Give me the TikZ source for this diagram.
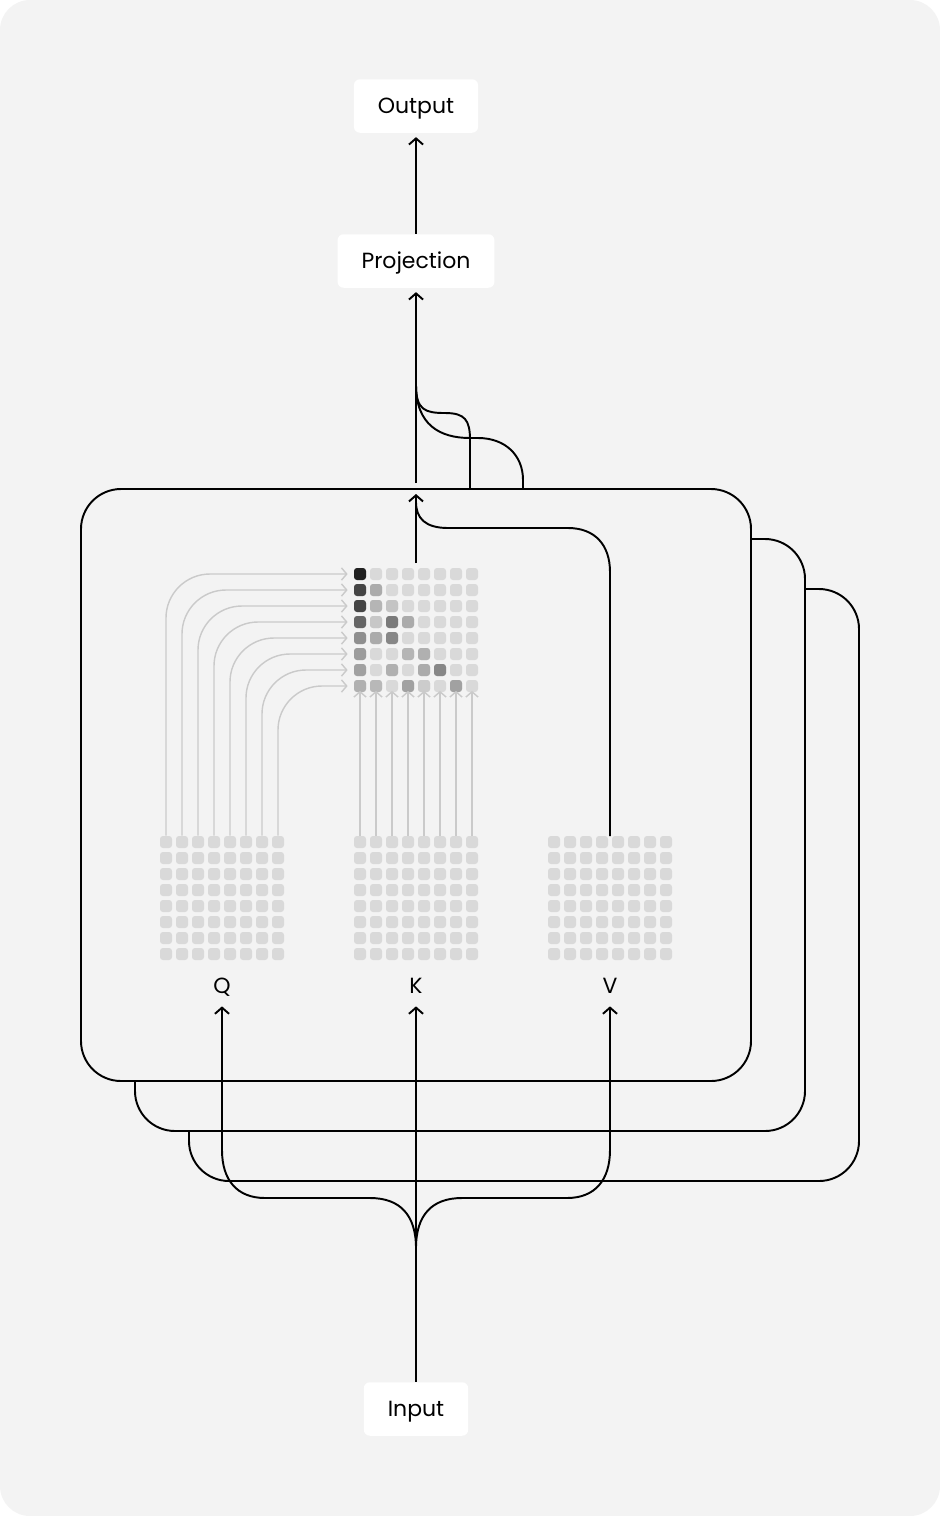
\documentclass[tikz,border=0pt]{standalone}
\usepackage{fontspec}
\setmainfont{Poppins}
\usetikzlibrary{positioning, arrows.meta}
\definecolor{bgcol}{HTML}{F3F3F3}
\definecolor{dotcol}{HTML}{D9D9D9}
\definecolor{wirecol}{HTML}{CACACA}

\begin{document}
\begin{tikzpicture}[
        x=0.02cm, y=-0.02cm,
        every node/.style={font=\fontsize{12.5}{15}\selectfont},
        box/.style={fill=white, rounded corners=0.12cm, inner xsep=0.48cm, minimum height=1.07cm, text height=0.82em, text depth=0pt},
        lbl/.style={inner sep=0, minimum height=0.8cm, text height=0.82em, text depth=0pt},
        head/.style={draw=black, line width=1.1pt, fill=bgcol, rounded corners=0.8cm},
        wire/.style={draw=black, line width=1.1pt},
        arr/.style={wire, -{Straight Barb[length=3.5pt,width=8pt]}},
        dot/.style={fill=dotcol, rounded corners=0.06cm, minimum size=0.24cm, inner sep=0},
        gwire/.style={draw=wirecol, line width=0.8pt, -{Straight Barb[length=3pt,width=7pt]}}]

        \useasboundingbox (0,0) rectangle (940,1516);
        \fill[white] (0,0) rectangle (940,1516);
        \fill[bgcol, rounded corners=0.6cm] (0,0) rectangle (940,1516);

        % heads behind
        \draw[head] (189,589) rectangle (859,1181);
        \draw[head] (135,539) rectangle (805,1131);

        \coordinate (h2) at (470,489);
        \coordinate (h3) at (523,489);
        \coordinate (merge) at (416,385);
        \draw[wire] (h3) -- (523,480) .. controls (523,455) and (505,438) .. (478,438) -- (470,438) .. controls (440,438) and (416,425) .. (merge);
        \draw[wire] (h2) -- (470,440) .. controls (470,420) and (465,413) .. (445,413) .. controls (425,413) and (416,410) .. (merge);

        % front head
        \draw[head] (81,489) rectangle (751,1081);

        \node[box] (out) at (416,106) {Output};
        \node[box] (proj) at (416,261) {Projection};
        \node[box] (inp) at (416,1409) {Input};

        \node[lbl] (Q) at (222,986) {Q};
        \node[lbl] (K) at (416,986) {K};
        \node[lbl] (V) at (610,986) {V};

        % Q, K, V and scores
        \foreach \c in {1,...,8}
            \foreach \r in {1,...,8} {
                \node[dot] (q\c-\r) at (150+16*\c, 826+16*\r) {};
                \node[dot] (k\c-\r) at (344+16*\c, 826+16*\r) {};
                \node[dot] (v\c-\r) at (538+16*\c, 826+16*\r) {};
                \node[dot] (a\c-\r) at (344+16*\c, 558+16*\r) {};
            }
        \foreach \c/\r/\s in {1/1/87, 1/2/73, 2/2/33, 1/3/73, 2/3/29, 3/3/23,
                1/4/60, 2/4/22, 3/4/52, 4/4/33, 1/5/44, 2/5/33, 3/5/47,
                1/6/39, 4/6/29, 5/6/31, 1/7/37, 3/7/31, 5/7/33, 6/7/47,
                1/8/31, 2/8/28, 4/8/37, 5/8/20, 7/8/37}
            \node[dot, fill=black!\s] at (a\c-\r) {};

        \foreach \c in {1,...,8} {
            \draw[gwire, rounded corners=0.88cm] (q\c-1.north) |- ([xshift=-0.12cm]a1-\c.west);
            \draw[gwire, shorten >=-0.03cm] (k\c-1.north) -- (a\c-8.south);
        }

        % attention out, V path
        \coordinate (atop) at (416,563);
        \coordinate (hin) at (416,494);
        \coordinate (hout) at (416,483);
        \coordinate (vtop) at (610,836);
        \coordinate (vin) at (416,502);
        \draw[arr] (atop) -- (hin);
        \draw[wire] (vtop) -- (610,572) .. controls (610,545) and (595,528) .. (568,528) -- (448,528) .. controls (425,528) and (416,518) .. (vin);
        \draw[arr, shorten >=0.08cm] (hout) -- (proj);
        \draw[arr, shorten >=0.08cm] (proj) -- (out);

        % input fork
        \coordinate (fork) at (416,1248);
        \draw[arr] (inp) -- (K);
        \draw[arr] (fork) .. controls (416,1215) and (400,1198) .. (370,1198) -- (265,1198) .. controls (237,1198) and (222,1180) .. (222,1150) -- (Q);
        \draw[arr] (fork) .. controls (416,1215) and (432,1198) .. (462,1198) -- (567,1198) .. controls (595,1198) and (610,1180) .. (610,1150) -- (V);
\end{tikzpicture}
\end{document}
